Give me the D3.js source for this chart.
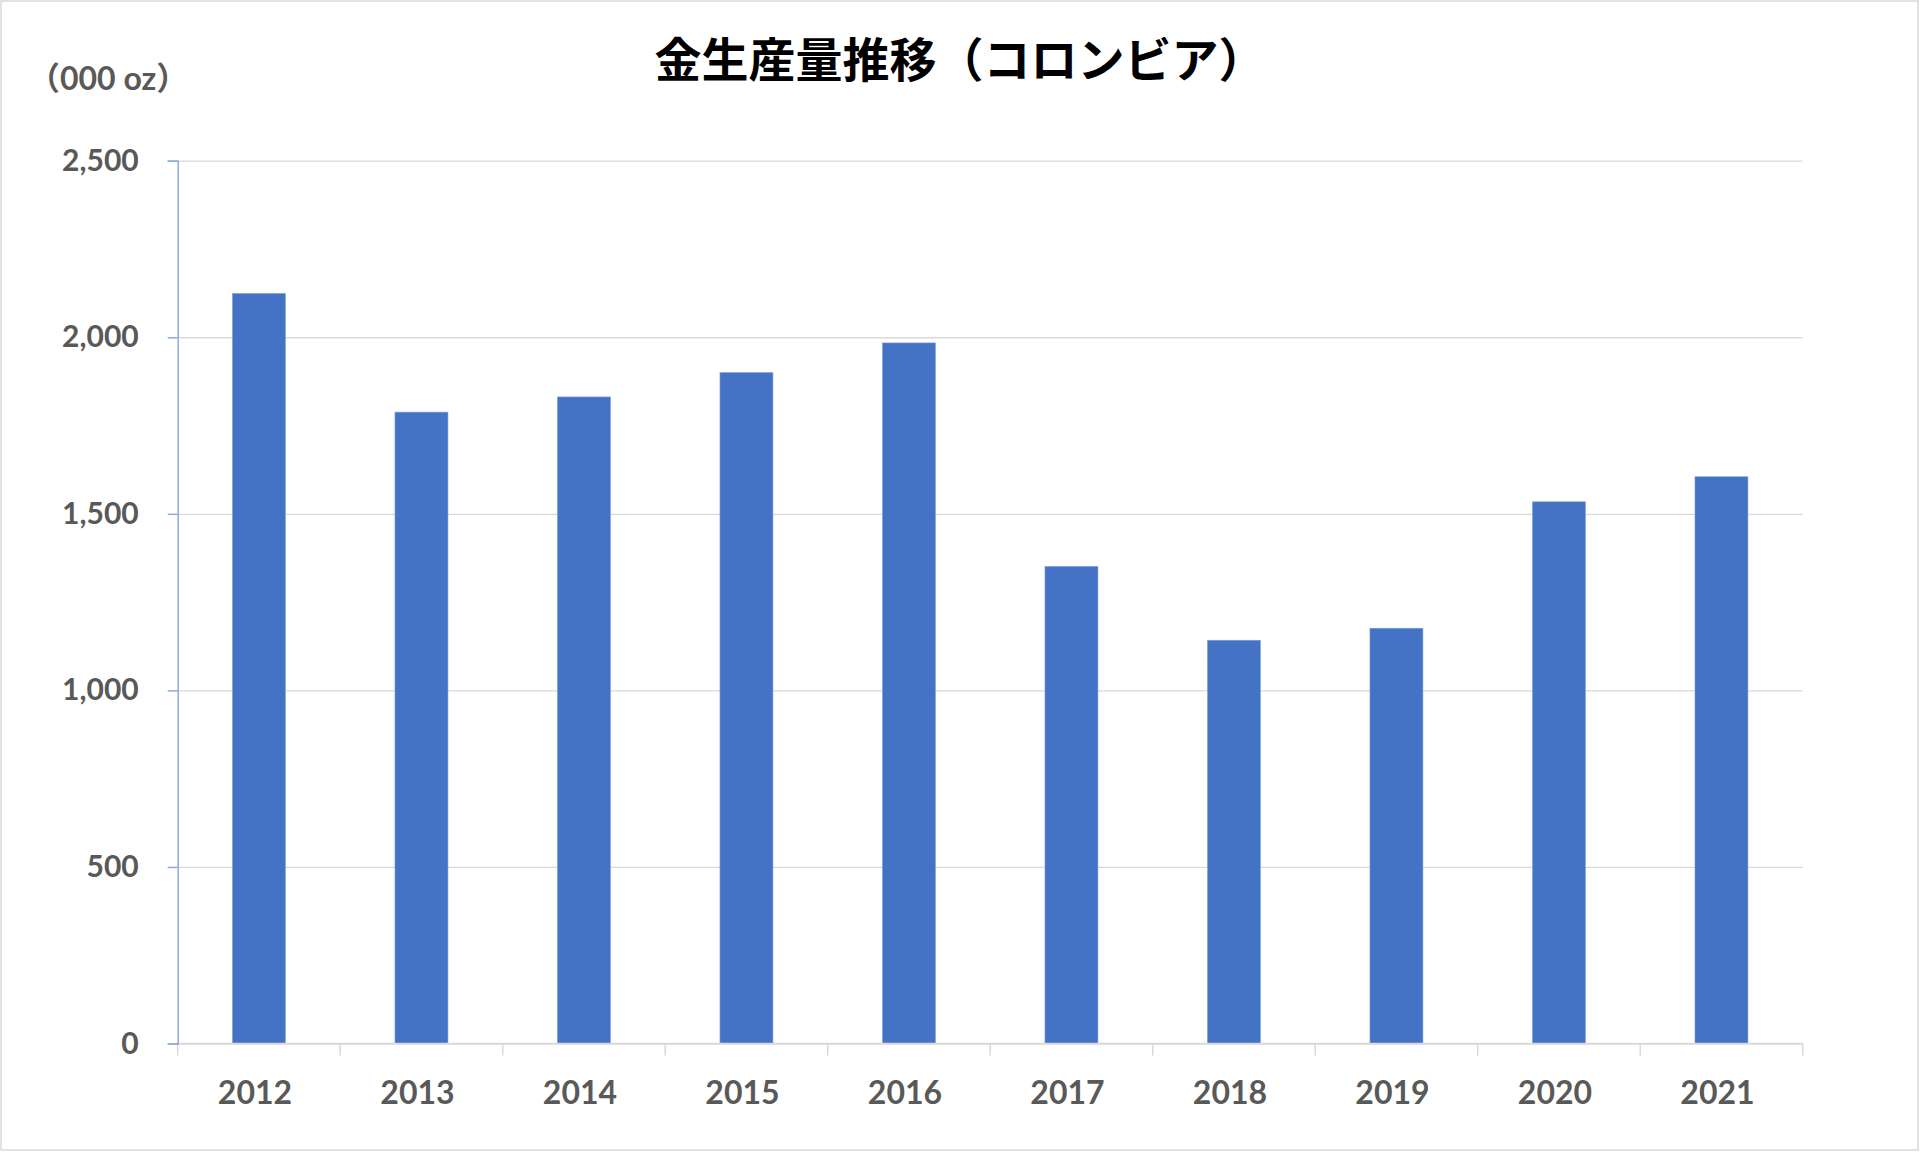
<!DOCTYPE html>
<html>
<head>
<meta charset="utf-8">
<script src="https://cdn.jsdelivr.net/npm/d3@7"></script>
<style>
  html, body { margin: 0; padding: 0; background: #fff; }
  svg { display: block; }
</style>
</head>
<body>
<div id="chart"></div>
<script>
// data
var years = ["2012", "2013", "2014", "2015", "2016", "2017", "2018", "2019", "2020", "2021"];
var production = [2124, 1788, 1831, 1900, 1984, 1351, 1142, 1176, 1534, 1605];
var yTicks = [0, 500, 1000, 1500, 2000, 2500];
var title = "金生産量推移（コロンビア）";
var unitLabel = "（000 oz）";

function barChart(node) {
  var W = 1920, H = 1152;
  var margin = {top: 160.7, right: 117.3, bottom: 108.5, left: 177.7},
    width = W - margin.left - margin.right,
    height = H - margin.top - margin.bottom;

  var svg = node.append("svg")
    .attr("width", W)
    .attr("height", H);

  // outer frame
  svg.append("rect")
    .attr("x", 1).attr("y", 1)
    .attr("width", W - 3).attr("height", H - 3)
    .attr("fill", "#fff")
    .attr("stroke", "#d9d9d9")
    .attr("stroke-width", 1.5);

  svg.append("text")
    .attr("x", W / 2)
    .attr("y", 77)
    .attr("text-anchor", "middle")
    .style("font-family", "'Noto Sans CJK JP', sans-serif")
    .style("font-weight", "bold")
    .style("font-size", "47px")
    .attr("fill", "#000")
    .text(title);

  svg.append("text")
    .attr("x", 28)
    .attr("y", 90)
    .style("font-family", "Lato, 'Noto Sans CJK JP', sans-serif")
    .style("font-weight", "bold")
    .style("font-size", "32px")
    .attr("fill", "#595959")
    .text(unitLabel);

  var g = svg.append("g")
    .attr("transform", "translate(" + margin.left + "," + margin.top + ")");

  var x = d3.scaleBand()
    .domain(years)
    .range([0, width])
    .paddingInner(0.674)
    .paddingOuter(0.337);

  var y = d3.scaleLinear()
    .domain([0, 2500])
    .range([height, 0]);

  // gridlines
  var grid = g.append("g")
    .call(d3.axisLeft(y).tickValues(yTicks).tickSize(-width).tickFormat(""));
  grid.select(".domain").remove();
  grid.selectAll("line").attr("stroke", "#d9d9d9").attr("stroke-width", 1.3);

  // bars
  g.selectAll("rect.bar")
    .data(production)
    .enter().append("rect")
    .attr("class", "bar")
    .attr("x", function(d, i) { return x(years[i]); })
    .attr("y", function(d) { return y(d); })
    .attr("width", x.bandwidth())
    .attr("height", function(d) { return height - y(d); })
    .attr("fill", "#4472c4")
    .attr("stroke", "#7f9fd9")
    .attr("stroke-width", 0.6);

  // x axis baseline and category separators
  var half = (x.step() - x.bandwidth()) / 2;
  var bounds = years.map(function(c) { return x(c) - half; }).concat([width]);
  g.append("line")
    .attr("x1", 0).attr("x2", width)
    .attr("y1", height).attr("y2", height)
    .attr("stroke", "#d9d9d9").attr("stroke-width", 1.5);
  g.selectAll("line.sep")
    .data(bounds)
    .enter().append("line")
    .attr("class", "sep")
    .attr("x1", function(d) { return d; }).attr("x2", function(d) { return d; })
    .attr("y1", height).attr("y2", height + 12)
    .attr("stroke", "#d9d9d9").attr("stroke-width", 1.5);

  g.selectAll("text.xl")
    .data(years)
    .enter().append("text")
    .attr("class", "xl")
    .attr("x", function(d) { return x(d) + x.bandwidth() / 2 - 4; })
    .attr("y", height + 61)
    .attr("text-anchor", "middle")
    .style("font-family", "Lato, sans-serif")
    .style("font-weight", "bold")
    .style("font-size", "32px")
    .attr("fill", "#595959")
    .text(function(d) { return d; });

  // y axis
  var yAxis = g.append("g")
    .call(d3.axisLeft(y).tickValues(yTicks).tickSize(10).tickPadding(29).tickFormat(d3.format(",")));
  yAxis.select(".domain").attr("stroke", "#8faadc").attr("stroke-width", 1.5);
  yAxis.selectAll(".tick line").attr("stroke", "#8faadc").attr("stroke-width", 1.5);
  yAxis.selectAll("text")
    .style("font-family", "Lato, sans-serif")
    .style("font-weight", "bold")
    .style("font-size", "30px")
    .attr("fill", "#595959");
}

barChart(d3.select("#chart"));
</script>
</body>
</html>
